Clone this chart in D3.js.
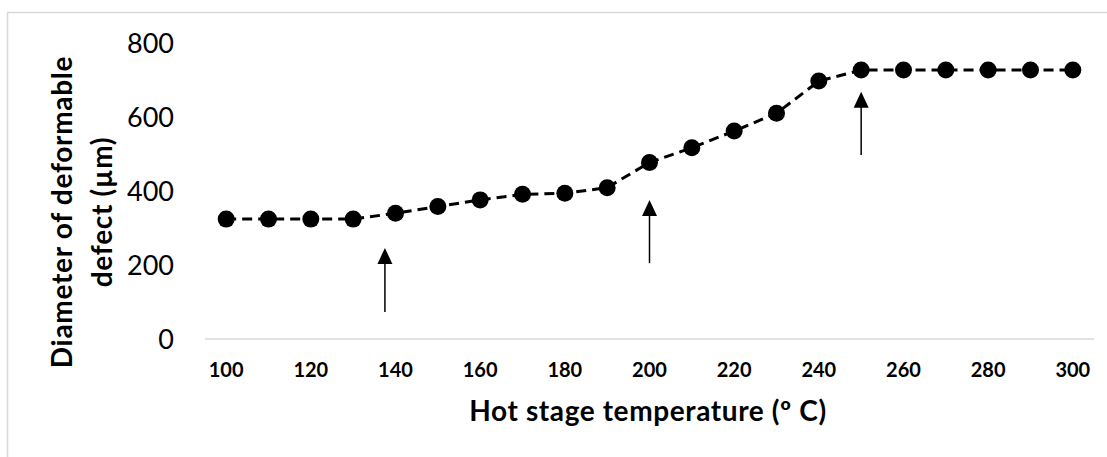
<!DOCTYPE html>
<html><head><meta charset="utf-8">
<script src="https://cdn.jsdelivr.net/npm/d3@7"></script>
<style>body{margin:0;background:#fff}svg{display:block}</style>
</head><body>
<svg id="c" width="1107" height="457"></svg>
<script>
const temperatures = [100,110,120,130,140,150,160,170,180,190,200,210,220,230,240,250,260,270,280,290,300];
const diameters = [324,324,324,324,340,358,376,391,394,409,477,517,562,610,697,727,727,727,727,727,727];
const xTickValues = [100,120,140,160,180,200,220,240,260,280,300];
const yTickValues = [0,200,400,600,800];
const arrowX = [137.5,200,250];
const arrowFrom = [73,205,497];
const arrowTo = [246,376,668];

(function(){
const svg = d3.select('#c');
const pl = 205, pr = 1094, pt = 43, pb = 339;
const x = d3.scaleLinear().domain([95,305]).range([pl,pr]);
const y = d3.scaleLinear().domain([0,800]).range([pb,pt]);

svg.append('rect').attr('x',7.5).attr('y',12.5).attr('width',1110).attr('height',460)
  .attr('fill','none').attr('stroke','#d9d9d9').attr('stroke-width',1.5);

svg.append('line').attr('x1',pl).attr('x2',pr).attr('y1',pb).attr('y2',pb)
  .attr('stroke','#d9d9d9').attr('stroke-width',1.5);

svg.append('g').selectAll('text').data(xTickValues).join('text')
  .attr('x',d=>x(d)).attr('y',377).attr('text-anchor','middle')
  .attr('font-family','Lato, sans-serif').attr('font-weight','bold').attr('font-size',20)
  .attr('fill','#000').text(d=>d);

svg.append('g').selectAll('text').data(yTickValues).join('text')
  .attr('x',174).attr('y',d=>y(d)+10).attr('text-anchor','end')
  .attr('font-family','Lato, sans-serif').attr('font-size',27)
  .attr('fill','#000').text(d=>d);

svg.append('text').attr('x',648).attr('y',421).attr('text-anchor','middle')
  .attr('font-family','Lato, sans-serif').attr('font-weight','bold').attr('font-size',28)
  .attr('letter-spacing',0.6)
  .text('Hot stage temperature (º C)');
const yt = svg.append('text').attr('transform','translate(0,212) rotate(-90)')
  .attr('text-anchor','middle').attr('font-family','Lato, sans-serif').attr('font-weight','bold').attr('font-size',28)
  .attr('letter-spacing',0.7);
yt.append('tspan').attr('x',0).attr('y',72).text('Diameter of deformable');
yt.append('tspan').attr('x',0).attr('y',112).text('defect (µm)');

const pts = temperatures.map((t,i)=>[t,diameters[i]]);
svg.append('path').datum(pts)
  .attr('d',d3.line().x(d=>x(d[0])).y(d=>y(d[1])))
  .attr('fill','none').attr('stroke','#000').attr('stroke-width',3).attr('stroke-dasharray','10,6');
svg.append('g').selectAll('circle').data(pts).join('circle')
  .attr('cx',d=>x(d[0])).attr('cy',d=>y(d[1])).attr('r',8.5).attr('fill','#000');

const ag = svg.append('g');
arrowX.forEach((ax,i)=>{
  const px = x(ax), y0 = y(arrowFrom[i]), y1 = y(arrowTo[i]);
  ag.append('line').attr('x1',px).attr('x2',px).attr('y1',y0).attr('y2',y1+14)
    .attr('stroke','#000').attr('stroke-width',1.5);
  ag.append('path').attr('d',`M${px},${y1} L${px-7.5},${y1+16} L${px+7.5},${y1+16} Z`).attr('fill','#000');
});
})();
</script>
</body></html>
